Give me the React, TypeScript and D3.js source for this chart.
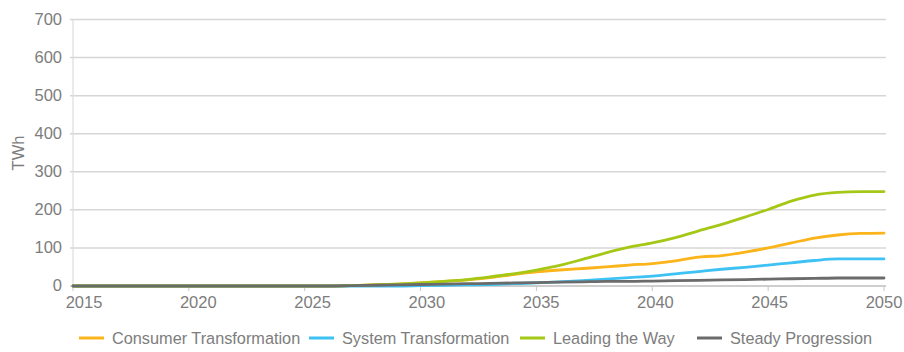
import React from "react";
import * as d3 from "d3";

const years: number[] = d3.range(2015, 2051);

const seriesNames: string[] = [
  "Consumer Transformation",
  "System Transformation",
  "Leading the Way",
  "Steady Progression",
];

const seriesColors: string[] = ["#FBB41A", "#3EC1F3", "#A5C817", "#6B6B6B"];

const consumerTransformation: number[] = [
  0, 0, 0, 0, 0, 0, 0, 0, 0, 0, 0, 0, 1, 3, 5, 8, 12, 16, 22, 30, 37, 42, 46, 50,
  55, 59, 66, 76, 80, 89, 100, 113, 126, 134, 138, 139,
];
const systemTransformation: number[] = [
  0, 0, 0, 0, 0, 0, 0, 0, 0, 0, 0, 0, 0, 0, 0, 1, 2, 3, 4, 6, 8, 11, 14, 18, 22,
  26, 32, 38, 44, 49, 55, 61, 67, 71, 71, 71,
];
const leadingTheWay: number[] = [
  0, 0, 0, 0, 0, 0, 0, 0, 0, 0, 0, 0, 1, 3, 5, 8, 12, 17, 24, 32, 42, 54, 70, 87,
  102, 113, 127, 145, 162, 181, 201, 223, 239, 246, 248, 248,
];
const steadyProgression: number[] = [
  0, 0, 0, 0, 0, 0, 0, 0, 0, 0, 0, 0, 1, 2, 3, 4, 5, 6, 7, 8, 9, 10, 11, 12, 12,
  13, 14, 15, 16, 17, 18, 19, 20, 21, 21, 21,
];

const seriesValues: number[][] = [
  consumerTransformation,
  systemTransformation,
  leadingTheWay,
  steadyProgression,
];

const yTicks: number[] = [0, 100, 200, 300, 400, 500, 600, 700];
const xTicks: number[] = [2015, 2020, 2025, 2030, 2035, 2040, 2045, 2050];
const yAxisTitle = "TWh";

export default function App() {
  const W = 904;
  const H = 352;
  const FONT = "'Liberation Sans', Arial, sans-serif";
  const labelColor = "#7d7d7d";

  const x = d3.scaleLinear().domain([2015, 2050]).range([73, 884]);
  const xLabel = d3.scaleLinear().domain([2015, 2050]).range([84, 884]);
  const y = d3.scaleLinear().domain([0, 700]).range([286, 19.5]);

  const line = d3
    .line<number>()
    .x((_, i) => x(years[i]))
    .y((d) => y(d))
    .curve(d3.curveMonotoneX);

  const legendTextX = [112, 342, 553, 730];
  const legendY = 338;

  return (
    <svg
      width={W}
      height={H}
      style={{ position: "absolute", left: 0, top: 0, background: "#fff" }}
      fontFamily={FONT}
    >
      {/* gridlines */}
      {yTicks.map((t) => (
        <line
          key={"g" + t}
          x1={70}
          x2={886}
          y1={y(t)}
          y2={y(t)}
          stroke="#d6d6d6"
          strokeWidth={1.5}
        />
      ))}
      {/* y axis line */}
      <line x1={73} x2={73} y1={y(700)} y2={y(0)} stroke="#dcdcdc" strokeWidth={1.2} />
      {/* x axis line & ticks */}
      <line x1={73} x2={886} y1={y(0)} y2={y(0)} stroke="#c8c8c8" strokeWidth={1.5} />
      {xTicks.map((t) => (
        <line
          key={"xt" + t}
          x1={x(t)}
          x2={x(t)}
          y1={y(0)}
          y2={y(0) + 5}
          stroke="#c8c8c8"
          strokeWidth={1}
        />
      ))}
      {/* y labels */}
      {yTicks.map((t) => (
        <text
          key={"yl" + t}
          x={62}
          y={y(t)}
          dy="0.33em"
          textAnchor="end"
          fontSize={16.5}
          fill={labelColor}
        >
          {t}
        </text>
      ))}
      {/* x labels */}
      {xTicks.map((t) => (
        <text
          key={"xl" + t}
          x={xLabel(t)}
          y={308}
          textAnchor="middle"
          fontSize={16.5}
          fill={labelColor}
        >
          {t}
        </text>
      ))}
      {/* y title */}
      <text
        transform={`translate(24,153) rotate(-90)`}
        textAnchor="middle"
        fontSize={16.5}
        fill={labelColor}
      >
        {yAxisTitle}
      </text>
      {/* lines */}
      {seriesValues.map((vals, i) => (
        <path
          key={"s" + i}
          d={line(vals) || ""}
          fill="none"
          stroke={seriesColors[i]}
          strokeWidth={2.8}
          strokeLinejoin="round"
          strokeLinecap="round"
        />
      ))}
      {/* legend */}
      {seriesNames.map((name, i) => (
        <g key={"lg" + i}>
          <line
            x1={legendTextX[i] - 33}
            x2={legendTextX[i] - 8}
            y1={legendY}
            y2={legendY}
            stroke={seriesColors[i]}
            strokeWidth={3}
          />
          <text
            x={legendTextX[i]}
            y={legendY}
            dy="0.35em"
            fontSize={16.3}
            fill={labelColor}
          >
            {name}
          </text>
        </g>
      ))}
    </svg>
  );
}
